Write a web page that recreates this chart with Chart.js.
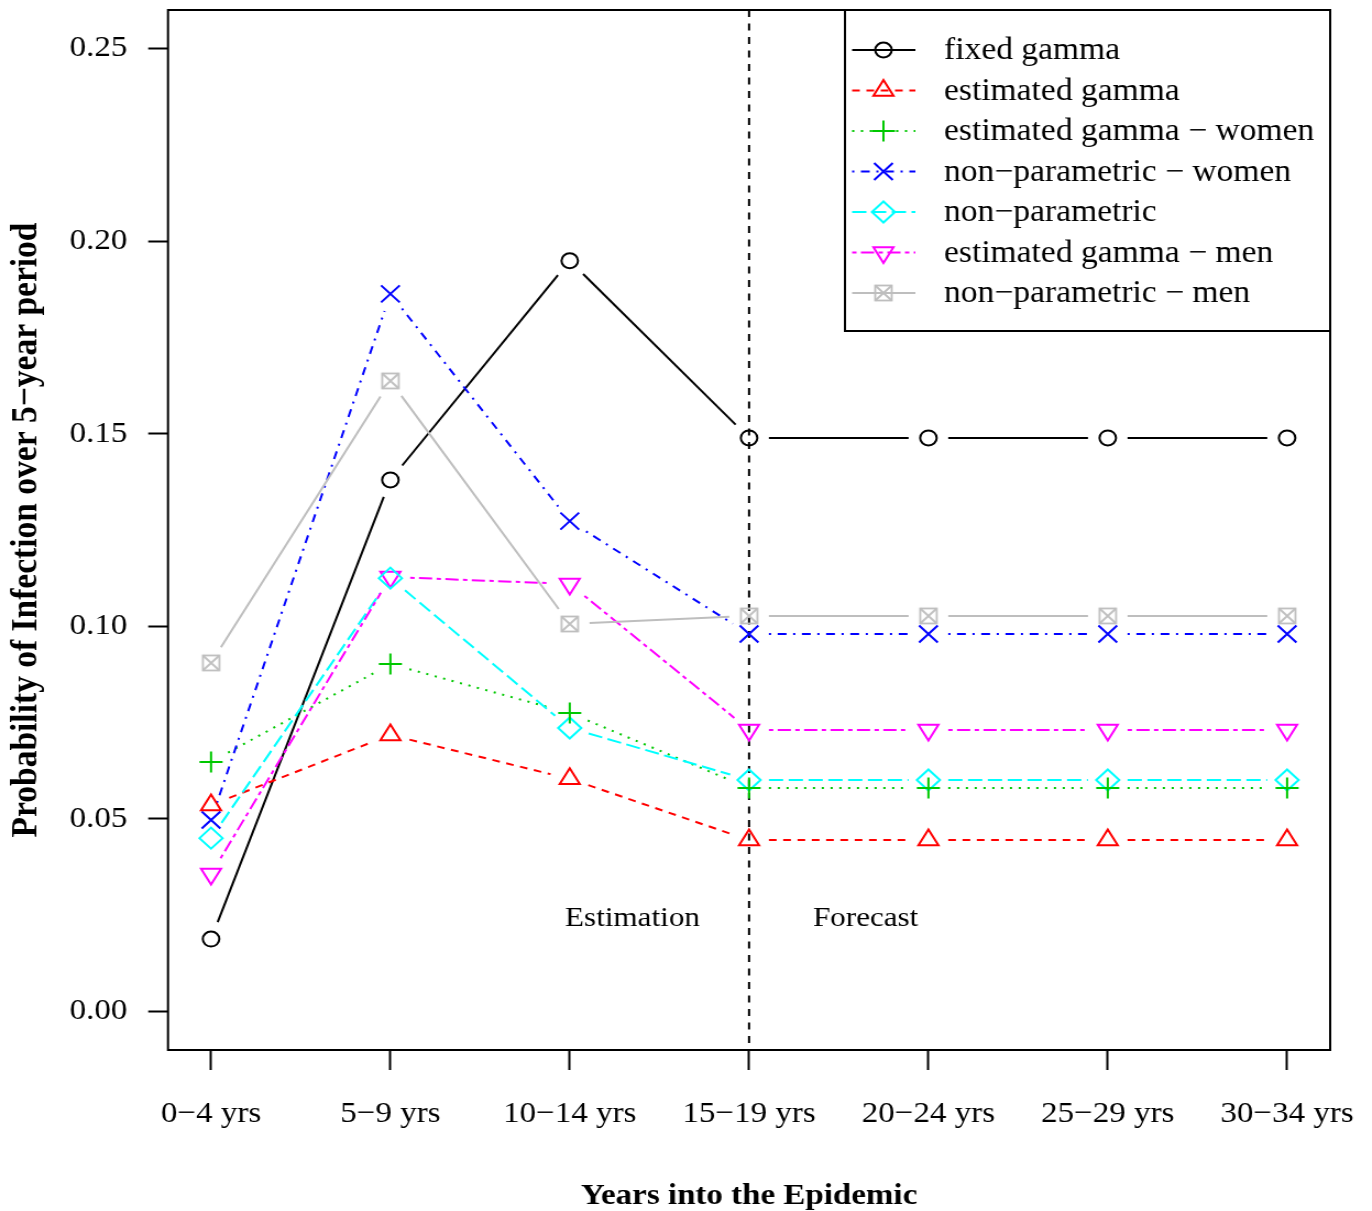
<!DOCTYPE html>
<html>
<head>
<meta charset="utf-8">
<script src="https://cdn.jsdelivr.net/npm/chart.js@4.4.1/dist/chart.umd.min.js"></script>
<style>
  html, body { margin: 0; padding: 0; background: #fff; overflow: hidden; }
  /* the reference is stretched ~1.1x horizontally, so draw narrower and stretch */
  #wrap { width: 1247px; transform: scaleX(1.1002); transform-origin: 0 0; }
</style>
</head>
<body>
<div id="wrap"><canvas id="chart" width="1247" height="1211"></canvas></div>
<script>
// ===== DATA =====
const periods = ['0−4 yrs', '5−9 yrs', '10−14 yrs', '15−19 yrs', '20−24 yrs', '25−29 yrs', '30−34 yrs'];
const yTicks = [0, 0.05, 0.10, 0.15, 0.20, 0.25];

const fixedGamma        = [0.0188, 0.1380, 0.1949, 0.1489, 0.1489, 0.1489, 0.1489];
const estGamma          = [0.0536, 0.0718, 0.0604, 0.0445, 0.0445, 0.0445, 0.0445];
const estGammaWomen     = [0.0648, 0.0902, 0.0775, 0.0580, 0.0580, 0.0580, 0.0580];
const nonParamWomen     = [0.0497, 0.1863, 0.1273, 0.0980, 0.0980, 0.0980, 0.0980];
const nonParam          = [0.0450, 0.1125, 0.0736, 0.0601, 0.0601, 0.0601, 0.0601];
const estGammaMen       = [0.0357, 0.1128, 0.1110, 0.0731, 0.0731, 0.0731, 0.0731];
const nonParamMen       = [0.0905, 0.1637, 0.1006, 0.1027, 0.1027, 0.1027, 0.1027];

const seriesLabels = [
  'fixed gamma',
  'estimated gamma',
  'estimated gamma − women',
  'non−parametric − women',
  'non−parametric',
  'estimated gamma − men',
  'non−parametric − men'
];

const splitAt = 4;          // estimation | forecast boundary
const FONT = "'Liberation Serif', 'Times New Roman', serif";

// boxed-x marker (R pch 7)
function boxedX(color) {
  const c = document.createElement('canvas');
  c.width = 20; c.height = 20;
  const g = c.getContext('2d');
  g.strokeStyle = color;
  g.lineWidth = 1.8;
  g.strokeRect(2.5, 2.5, 15, 15);
  g.beginPath();
  g.moveTo(2.5, 2.5); g.lineTo(17.5, 17.5);
  g.moveTo(17.5, 2.5); g.lineTo(2.5, 17.5);
  g.stroke();
  return c;
}

const styles = [
  { color: '#000000', dash: [],          pointStyle: 'circle',   radius: 7.5,  rotation: 0 },
  { color: '#ff0000', dash: [7, 6],      pointStyle: 'triangle', radius: 10.5, rotation: 0 },
  { color: '#00c800', dash: [2, 6],      pointStyle: 'cross',    radius: 10.5, rotation: 0 },
  { color: '#0000ff', dash: [2, 6, 8, 6], pointStyle: 'crossRot', radius: 12,  rotation: 0 },
  { color: '#00ffff', dash: [13, 5],     pointStyle: 'rectRot',  radius: 10.5, rotation: 0 },
  { color: '#ff00ff', dash: [4, 4, 12, 4], pointStyle: 'triangle', radius: 10.5, rotation: 180 },
  { color: '#bebebe', dash: [],          pointStyle: boxedX('#bebebe'), radius: 10, rotation: 0 }
];

const seriesValues = [fixedGamma, estGamma, estGammaWomen, nonParamWomen, nonParam, estGammaMen, nonParamMen];

const datasets = seriesValues.map((vals, i) => ({
  label: seriesLabels[i],
  data: vals.map((v, k) => ({ x: k + 1, y: v })),
  showLine: false,
  borderColor: styles[i].color,
  lineDash: styles[i].dash,
  pointStyle: styles[i].pointStyle,
  pointRadius: styles[i].radius,
  pointHoverRadius: styles[i].radius,
  pointRotation: styles[i].rotation,
  pointBorderWidth: 2,
  pointBorderColor: styles[i].color,
  pointBackgroundColor: 'rgba(0,0,0,0)'
}));

// vertical offset of the canvas (set after a first layout pass)
let OFF = 0;

// ===== PLUGINS =====
const GAP = 18;

// R type="b": lines with gaps around each point
const gapLines = {
  id: 'gapLines',
  beforeDatasetsDraw(chart) {
    const { ctx, chartArea, scales } = chart;
    ctx.save();

    // dashed boundary line + region labels
    const xs = scales.x.getPixelForValue(splitAt);
    ctx.strokeStyle = '#000';
    ctx.lineWidth = 2;
    ctx.setLineDash([7, 6.5]);
    ctx.beginPath();
    ctx.moveTo(xs, chartArea.top);
    ctx.lineTo(xs, chartArea.bottom);
    ctx.stroke();

    ctx.fillStyle = '#000';
    ctx.font = `28.3px ${FONT}`;
    ctx.textAlign = 'center';
    ctx.textBaseline = 'middle';
    ctx.fillText('Estimation', scales.x.getPixelForValue(splitAt - 0.65), scales.y.getPixelForValue(0.024));
    ctx.fillText('Forecast', scales.x.getPixelForValue(splitAt + 0.65), scales.y.getPixelForValue(0.024));

    chart.data.datasets.forEach((ds, i) => {
      const pts = chart.getDatasetMeta(i).data;
      ctx.strokeStyle = ds.borderColor;
      ctx.lineWidth = 2;
      ctx.setLineDash(ds.lineDash);
      for (let k = 0; k < pts.length - 1; k++) {
        const a = pts[k], b = pts[k + 1];
        const dx = b.x - a.x, dy = b.y - a.y;
        const len = Math.hypot(dx, dy);
        if (len <= 2 * GAP) continue;
        const ux = dx / len, uy = dy / len;
        ctx.beginPath();
        ctx.moveTo(a.x + ux * GAP, a.y + uy * GAP);
        ctx.lineTo(b.x - ux * GAP, b.y - uy * GAP);
        ctx.stroke();
      }
    });
    ctx.restore();
  }
};

const frameAndLegend = {
  id: 'frameAndLegend',
  afterDraw(chart) {
    const { ctx, chartArea } = chart;
    ctx.save();
    ctx.setLineDash([]);

    // plot box
    ctx.strokeStyle = '#000';
    ctx.lineWidth = 2;
    ctx.strokeRect(chartArea.left, chartArea.top, chartArea.right - chartArea.left, chartArea.bottom - chartArea.top);

    // legend box (top right)
    const lx0 = 768, lx1 = chartArea.right, ly0 = chartArea.top, ly1 = 331 + OFF;
    ctx.fillStyle = '#fff';
    ctx.fillRect(lx0, ly0, lx1 - lx0, ly1 - ly0);
    ctx.strokeRect(lx0, ly0, lx1 - lx0, ly1 - ly0);

    seriesLabels.forEach((label, i) => {
      const st = styles[i];
      const y = 50 + 40.5 * i + OFF;
      ctx.strokeStyle = st.color;
      ctx.lineWidth = 2;
      ctx.setLineDash(st.dash);
      ctx.beginPath();
      ctx.moveTo(774.5, y);
      ctx.lineTo(832, y);
      ctx.stroke();
      ctx.setLineDash([]);
      ctx.fillStyle = 'rgba(0,0,0,0)';
      Chart.helpers.drawPoint(ctx, {
        pointStyle: st.pointStyle, rotation: st.rotation, radius: st.radius, borderWidth: 2
      }, 803, y);

      ctx.fillStyle = '#000';
      ctx.font = `30.5px ${FONT}`;
      ctx.textAlign = 'left';
      ctx.textBaseline = 'middle';
      ctx.fillText(label, 858, y + 1);
    });

    // axis titles
    ctx.fillStyle = '#000';
    ctx.font = `bold 30px ${FONT}`;
    ctx.textAlign = 'center';
    ctx.textBaseline = 'middle';
    ctx.fillText('Years into the Epidemic', (chartArea.left + chartArea.right) / 2, 1196 + OFF);

    ctx.font = `bold 33.5px ${FONT}`;
    ctx.translate(24.5, 530 + OFF);
    ctx.rotate(-Math.PI / 2);
    ctx.fillText('Probability of Infection over 5−year period', 0, 0);
    ctx.restore();
  }
};

// ===== CHART =====
function makeChart() {
  return new Chart(document.getElementById('chart'), {
    type: 'scatter',
    data: { datasets },
    options: {
      responsive: false,
      animation: false,
      events: [],
      layout: { padding: { left: 0, top: 10, right: 38, bottom: 0 } },
      plugins: { legend: { display: false }, tooltip: { enabled: false } },
      scales: {
        x: {
          type: 'linear',
          position: 'bottom',
          min: 0.76,
          max: 7.24,
          afterBuildTicks: s => { s.ticks = periods.map((_, i) => ({ value: i + 1 })); },
          afterFit: s => { s.height = 161; s.paddingLeft = 0; s.paddingRight = 0; s.paddingTop = 0; s.paddingBottom = 0; },
          ticks: {
            callback: v => periods[Math.round(v) - 1],
            font: { family: FONT, size: 30 },
            color: '#000',
            padding: 26,
            maxRotation: 0,
            autoSkip: false
          },
          grid: { drawOnChartArea: false, drawTicks: true, tickLength: 20, tickColor: '#000', tickWidth: 2 },
          border: { display: false }
        },
        y: {
          type: 'linear',
          min: -0.01,
          max: 0.26,
          afterBuildTicks: s => { s.ticks = yTicks.map(v => ({ value: v })); },
          afterFit: s => { s.width = 152.7; s.paddingTop = 0; s.paddingBottom = 0; s.paddingLeft = 0; s.paddingRight = 0; },
          ticks: {
            callback: v => v.toFixed(2),
            font: { family: FONT, size: 30 },
            color: '#000',
            padding: 19
          },
          grid: { drawOnChartArea: false, drawTicks: true, tickLength: 18, tickColor: '#000', tickWidth: 2 },
          border: { display: false }
        }
      }
    },
    plugins: [gapLines, frameAndLegend]
  });
}

let chart = makeChart();
const top0 = chart.chartArea.top;
if (Math.abs(top0 - 10) > 0.5) {
  // the layout keeps a minimum top margin: grow the canvas and pull it up instead
  chart.destroy();
  OFF = top0 - 10;
  const cv = document.getElementById('chart');
  cv.width = 1247;
  cv.height = Math.round(1211 + OFF);
  document.getElementById('wrap').style.marginTop = (-OFF) + 'px';
  chart = makeChart();
}
</script>
</body>
</html>
